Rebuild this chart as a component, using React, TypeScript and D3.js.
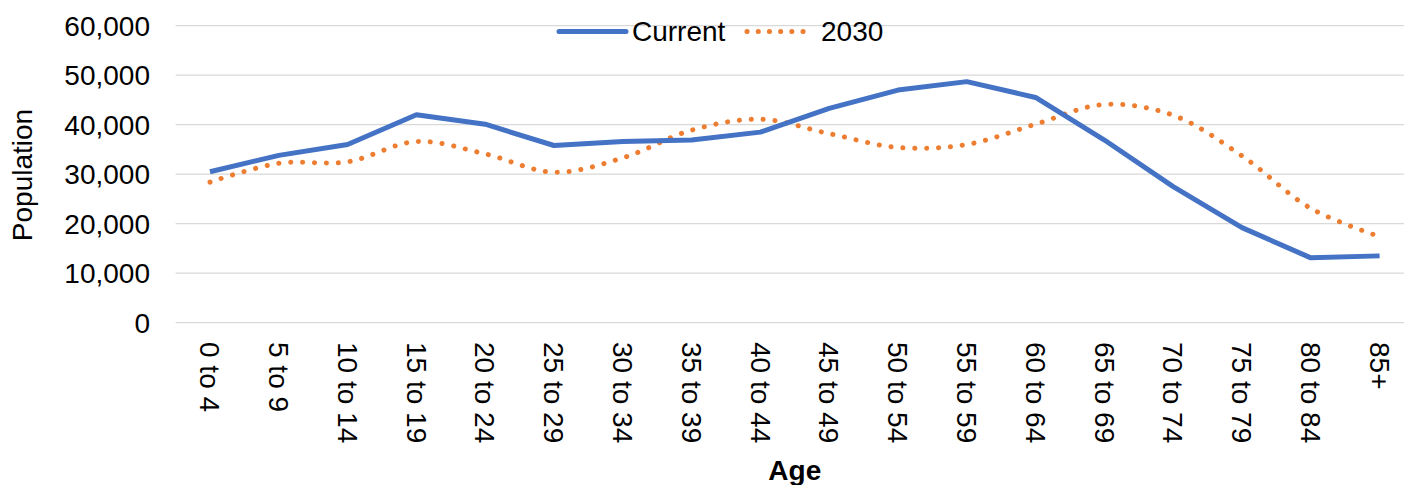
import React, { useEffect, useRef } from "react";
import * as d3 from "d3";

// chart data
const ageGroups = [
  "0 to 4", "5 to 9", "10 to 14", "15 to 19", "20 to 24", "25 to 29",
  "30 to 34", "35 to 39", "40 to 44", "45 to 49", "50 to 54", "55 to 59",
  "60 to 64", "65 to 69", "70 to 74", "75 to 79", "80 to 84", "85+",
];
const current = [
  30500, 33800, 36000, 42000, 40100, 35800, 36600, 36900, 38500,
  43300, 47000, 48700, 45500, 36900, 27500, 19200, 13100, 13500,
];
const projected2030 = [
  28400, 32200, 32500, 36600, 34100, 30400, 33300, 38900, 41100,
  38200, 35400, 36000, 40100, 44100, 41900, 33700, 23100, 17400,
];
const yTicks = [0, 10000, 20000, 30000, 40000, 50000, 60000];
const seriesNames = ["Current", "2030"];

const FONT = "'Liberation Sans', Arial, sans-serif";

export default function App() {
  const ref = useRef<SVGSVGElement>(null);

  useEffect(() => {
    const W = 1404, H = 485;
    const margin = { top: 25.7, right: -10, bottom: 162.3, left: 175.6 };
    const svg = d3.select(ref.current);
    svg.selectAll("*").remove();

    const x = d3
      .scaleBand()
      .domain(ageGroups)
      .range([margin.left, W - margin.right]);
    const y = d3
      .scaleLinear()
      .domain([0, 60000])
      .range([H - margin.bottom, margin.top]);
    const cx = (d: string) => (x(d) as number) + x.bandwidth() / 2;

    // gridlines
    svg
      .append("g")
      .selectAll("line")
      .data(yTicks)
      .enter()
      .append("line")
      .attr("x1", margin.left)
      .attr("x2", W - margin.right)
      .attr("y1", (d) => y(d))
      .attr("y2", (d) => y(d))
      .attr("stroke", "#d9d9d9")
      .attr("stroke-width", 1.3);

    // y tick labels
    svg
      .append("g")
      .selectAll("text")
      .data(yTicks)
      .enter()
      .append("text")
      .attr("x", 150)
      .attr("y", (d) => y(d))
      .attr("dy", "0.35em")
      .attr("text-anchor", "end")
      .style("font-family", FONT)
      .style("font-size", "28px")
      .attr("fill", "#000")
      .text((d) => d3.format(",")(d));

    // y axis title
    svg
      .append("text")
      .attr("transform", "translate(22.5,175) rotate(-90)")
      .attr("dy", "0.35em")
      .attr("text-anchor", "middle")
      .style("font-family", FONT)
      .style("font-size", "28px")
      .text("Population");

    // x tick labels, rotated
    svg
      .append("g")
      .selectAll("text")
      .data(ageGroups)
      .enter()
      .append("text")
      .attr("transform", (d) => `translate(${cx(d)},342) rotate(90)`)
      .attr("dy", "0.35em")
      .attr("text-anchor", "start")
      .style("font-family", FONT)
      .style("font-size", "28px")
      .text((d) => d);

    // x axis title (cut at the bottom edge, as in the original)
    svg
      .append("text")
      .attr("x", (margin.left + W - margin.right) / 2)
      .attr("y", 480)
      .attr("text-anchor", "middle")
      .style("font-family", FONT)
      .style("font-size", "28px")
      .style("font-weight", "bold")
      .text("Age");

    // lines
    const straight = d3
      .line<number>()
      .x((_, i) => cx(ageGroups[i]))
      .y((d) => y(d));
    const smooth = d3
      .line<number>()
      .x((_, i) => cx(ageGroups[i]))
      .y((d) => y(d))
      .curve(d3.curveCatmullRom.alpha(0.5));

    svg
      .append("path")
      .datum(projected2030)
      .attr("fill", "none")
      .attr("stroke", "#ED7D31")
      .attr("stroke-width", 5)
      .attr("stroke-linecap", "round")
      .attr("stroke-dasharray", "0.1 11.8")
      .attr("d", smooth);

    svg
      .append("path")
      .datum(current)
      .attr("fill", "none")
      .attr("stroke", "#4472C4")
      .attr("stroke-width", 5)
      .attr("stroke-linejoin", "round")
      .attr("d", straight);

    // legend
    const ly = 31.6;
    const legend = svg.append("g");
    legend
      .append("line")
      .attr("x1", 559)
      .attr("x2", 626)
      .attr("y1", ly)
      .attr("y2", ly)
      .attr("stroke", "#4472C4")
      .attr("stroke-width", 5)
      .attr("stroke-linecap", "round");
    legend
      .append("text")
      .attr("x", 632)
      .attr("y", ly)
      .attr("dy", "0.35em")
      .style("font-family", FONT)
      .style("font-size", "28px")
      .text(seriesNames[0]);
    legend
      .append("line")
      .attr("x1", 747)
      .attr("x2", 814)
      .attr("y1", ly)
      .attr("y2", ly)
      .attr("stroke", "#ED7D31")
      .attr("stroke-width", 5)
      .attr("stroke-linecap", "round")
      .attr("stroke-dasharray", "0.1 11.1");
    legend
      .append("text")
      .attr("x", 821)
      .attr("y", ly)
      .attr("dy", "0.35em")
      .style("font-family", FONT)
      .style("font-size", "28px")
      .text(seriesNames[1]);
  }, []);

  return (
    <svg
      ref={ref}
      width={1404}
      height={485}
      style={{ position: "absolute", left: 0, top: 0, background: "#fff" }}
    />
  );
}
